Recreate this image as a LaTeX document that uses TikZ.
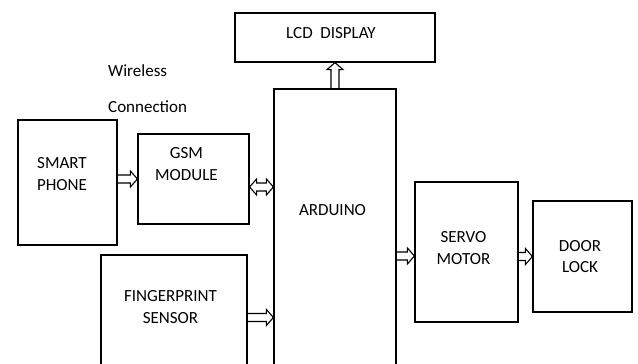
\documentclass[tikz,border=0pt]{standalone}
\usepackage{fontspec}
\setmainfont{Carlito}
\usetikzlibrary{positioning, calc}
\tikzstyle{block} = [rectangle, draw=black, line width=1.2pt, inner sep=0pt]
\tikzstyle{txt} = [font=\fontsize{17}{21.5}\selectfont, align=center, text=black]
% hollow block arrows, start and end taken from anchors
\tikzstyle{arrow} = [draw=black, line width=1.1pt, to path={
    let \p1=(\tikztostart), \p2=(\tikztotarget), \n2={atan2(\y2-\y1,\x2-\x1)} in
    ($(\p1)+(\n2+90:4pt)$) -- ($(\p2)+(\n2+180:7pt)+(\n2+90:4pt)$)
    -- ($(\p2)+(\n2+180:7pt)+(\n2+90:8pt)$) -- (\p2)
    -- ($(\p2)+(\n2+180:7pt)+(\n2-90:8pt)$) -- ($(\p2)+(\n2+180:7pt)+(\n2-90:4pt)$)
    -- ($(\p1)+(\n2-90:4pt)$)}]
\tikzstyle{biarrow} = [draw=black, line width=1.1pt, to path={
    let \p1=(\tikztostart), \p2=(\tikztotarget), \n2={atan2(\y2-\y1,\x2-\x1)} in
    ($(\p1)+(\n2:7pt)+(\n2+90:4pt)$) -- ($(\p2)+(\n2+180:7pt)+(\n2+90:4pt)$)
    -- ($(\p2)+(\n2+180:7pt)+(\n2+90:8pt)$) -- (\p2)
    -- ($(\p2)+(\n2+180:7pt)+(\n2-90:8pt)$) -- ($(\p2)+(\n2+180:7pt)+(\n2-90:4pt)$)
    -- ($(\p1)+(\n2:7pt)+(\n2-90:4pt)$) -- ($(\p1)+(\n2:7pt)+(\n2-90:8pt)$) -- (\p1)
    -- ($(\p1)+(\n2:7pt)+(\n2+90:8pt)$) -- cycle}]

\begin{document}
\begin{tikzpicture}[x=1pt, y=1pt]
        \useasboundingbox (0,0) rectangle (638,364);
        \clip (0,0) rectangle (638,364);

        % Blocks
        \node [block, minimum width=200pt, minimum height=49pt,
               label={[txt, xshift=-4pt, yshift=4.5pt]center:LCD\ \ DISPLAY}] (lcd) at (335,326.5) {};
        \node [block, minimum width=122pt, minimum height=291pt,
               label={[txt, xshift=-2.5pt, yshift=24.5pt]center:ARDUINO}] (arduino) at (335,129.5) {};
        \node [block, minimum width=99pt, minimum height=125pt,
               label={[txt, xshift=-5.5pt, yshift=8.5pt]center:{SMART\\PHONE}}] (phone) at (67.5,181.5) {};
        \node [block, minimum width=111pt, minimum height=90pt,
               label={[txt, xshift=-7pt, yshift=15pt]center:{GSM\\MODULE}}] (gsm) at (193.5,185) {};
        \node [block, minimum width=146pt, minimum height=125pt,
               label={[txt, xshift=-3.5pt, yshift=10.5pt]center:{FINGERPRINT\\SENSOR}}] (finger) at (174,46.5) {};
        \node [block, minimum width=103pt, minimum height=140pt,
               label={[txt, xshift=-3pt, yshift=4pt]center:{SERVO\\MOTOR}}] (servo) at (466.5,112) {};
        \node [block, minimum width=99pt, minimum height=111pt,
               label={[txt, xshift=-2.5pt]center:{DOOR\\LOCK}}] (door) at (582.5,107.5) {};

        % Wireless link text
        \node [txt, anchor=base west, inner sep=0pt] (wireless) at (108,287) {Wireless};
        \node [txt, anchor=base west, inner sep=0pt] (connection) at (108,251) {Connection};

        % Connect nodes
        \draw [arrow] (arduino.north) to (lcd.south);
        \draw [arrow] (phone.east |- gsm.west) to (gsm.west);
        \draw [biarrow] ([yshift=-8pt]gsm.east) to ([yshift=-8pt]gsm.east -| arduino.west);
        \draw [arrow] (finger.east) to (finger.east -| arduino.west);
        \draw [arrow] ([yshift=-4pt]servo.west -| arduino.east) to ([yshift=-4pt]servo.west);
        \draw [arrow] (servo.east |- door.west) to (door.west);
\end{tikzpicture}
\end{document}
